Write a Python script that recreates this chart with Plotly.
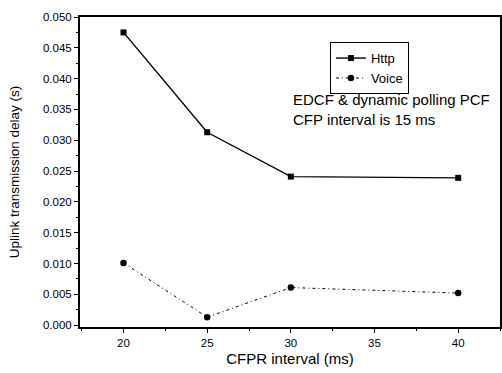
import plotly.graph_objects as go

x_vals = [20, 25, 30, 40]
http_delay = [0.0475, 0.0313, 0.0241, 0.0239]
voice_delay = [0.0101, 0.0013, 0.0061, 0.0052]
y_ticks = [0, 0.005, 0.01, 0.015, 0.02, 0.025, 0.03, 0.035, 0.04, 0.045, 0.05]
x_ticks = [20, 25, 30, 35, 40]

fig = go.Figure()
fig.add_trace(go.Scatter(x=x_vals, y=http_delay, name="Http", mode="lines+markers",
                         line=dict(color="black", width=1.4),
                         marker=dict(symbol="square", size=6, color="black")))
fig.add_trace(go.Scatter(x=x_vals, y=voice_delay, name="Voice", mode="lines+markers",
                         line=dict(color="black", width=1, dash="3px,3px,1px,3px"),
                         marker=dict(symbol="circle", size=6.5, color="black")))

fig.add_annotation(x=0.502, y=0.703, xref="paper", yref="paper", xanchor="left", yanchor="middle",
                   text="EDCF & dynamic polling PCF<br>CFP interval is 15 ms", showarrow=False,
                   align="left", font=dict(size=15, color="black", family="Liberation Sans"))

fig.update_layout(
    width=502, height=373,
    margin=dict(l=80, r=2, t=17, b=46),
    paper_bgcolor="white", plot_bgcolor="white",
    font=dict(family="Liberation Sans", color="black", size=11.5),
    showlegend=True,
    legend=dict(x=0.595, y=0.919, xanchor="left", yanchor="top",
                bordercolor="black", borderwidth=1, bgcolor="white",
                font=dict(size=13), itemwidth=30, tracegroupgap=0),
    xaxis=dict(range=[17.4, 42.5], tickvals=x_ticks, automargin=False,
               showline=True, linecolor="black", linewidth=2, mirror=True,
               ticks="outside", ticklen=4, tickcolor="black", showgrid=False, zeroline=False,
               minor=dict(ticks="outside", ticklen=2, dtick=2.5, tickcolor="black"),
               title=dict(text="CFPR interval (ms)", font=dict(size=15), standoff=6)),
    yaxis=dict(range=[-0.0003, 0.050], tickvals=y_ticks, automargin=False,
               tickformat=".3f",
               showline=True, linecolor="black", linewidth=2, mirror=True,
               ticks="outside", ticklen=4, tickcolor="black", showgrid=False, zeroline=False,
               minor=dict(ticks="outside", ticklen=2, dtick=0.0025, tickcolor="black"),
               title=dict(text="Uplink transmission delay (s)", font=dict(size=13.5), standoff=20)),
)

fig.write_html("out.html", config={"displayModeBar": False},
               post_script="document.body.style.margin='0px';")
